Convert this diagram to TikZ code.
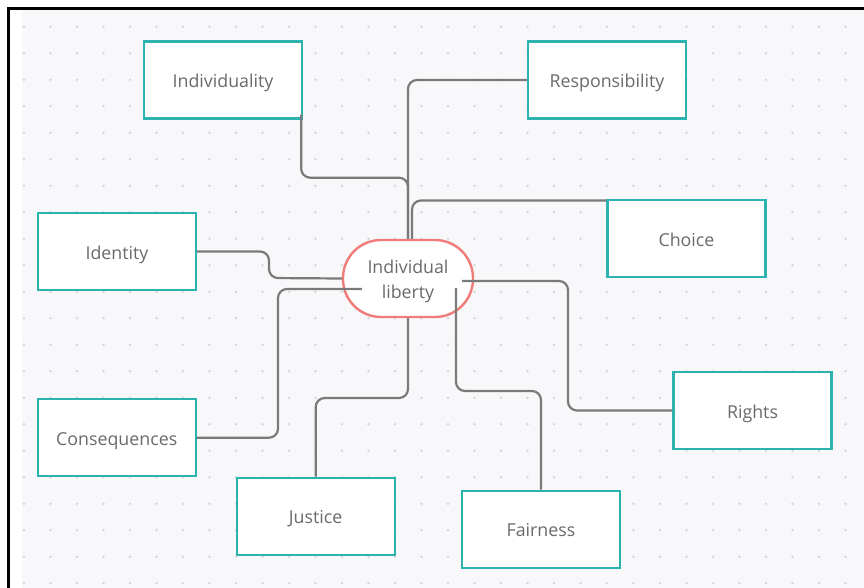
\documentclass[tikz,border=0pt]{standalone}
\usepackage{fontspec}
\setmainfont{Open Sans}
\definecolor{bgc}{HTML}{F8F8FA}
\definecolor{dotc}{HTML}{D6D6DA}
\definecolor{tealc}{HTML}{2CB3B0}
\definecolor{redc}{HTML}{F07C7A}
\definecolor{linec}{HTML}{7A7A7A}
\definecolor{txtc}{HTML}{6A6A6A}
\tikzset{
  topic/.style={draw=tealc, line width=2.4pt, fill=white, minimum width=158pt, minimum height=77pt,
    inner sep=0pt, text=txtc, text height=16pt, text depth=1pt, font=\fontsize{17.8}{24}\selectfont},
  hub/.style={draw=redc, line width=2.4pt, fill=white, minimum width=130pt, minimum height=77pt,
    rounded corners=38pt, inner sep=0pt, text=txtc, font=\fontsize{17.8}{24.5}\selectfont},
  conn/.style={draw=linec, line width=2.2pt, rounded corners=9pt}
}
\begin{document}
\begin{tikzpicture}[x=1pt,y=-1pt]
\useasboundingbox (0,0) rectangle (864,588);
% frame and canvas
\fill[white] (0,0) rectangle (864,588);
\fill[bgc] (22,10) rectangle (864,588);
\draw[black, line width=3pt] (8,588) -- (8,9) -- (864,9);
% dot grid
\foreach \i in {0,...,31} {
  \foreach \j in {0,...,21} {
    \fill[dotc] (24+26.5*\i, 26.7+26.5*\j) circle (1.4pt);
  }
}
% nodes
\node[topic] (indiv) at (223,80) {Individuality};
\node[topic] (resp) at (607,80) {Responsibility};
\node[topic] (ident) at (117,251.5) {Identity};
\node[topic] (choice) at (686.5,238.7) {Choice};
\node[topic] (cons) at (116.7,437.7) {Consequences};
\node[topic] (rights) at (752.5,410.5) {Rights};
\node[topic] (justice) at (315.7,516.3) {Justice};
\node[topic] (fair) at (541,529.3) {Fairness};
\node[hub] (hub) at (408,278.5) {\raisebox{-2.5pt}[\height][\depth]{\begin{tabular}{@{}c@{}}Individual\\liberty\end{tabular}}};
% connectors
\draw[conn] ([xshift=-2pt,yshift=5pt]indiv.south east) -- ++(0,63) -| (hub.north);
\draw[conn] (resp.west) -| (hub.north);
\draw[conn] ([yshift=-1.5pt]choice.north west) -| ([xshift=4pt]hub.north);
\draw[conn] (ident.east) -- (269,251.5) -- (269,278) -- (hub.west);
\draw[conn] (cons.east) -- (278,437.7) -- (278,289) -- ([xshift=20pt,yshift=-10.5pt]hub.west);
\draw[conn] (justice.north) -- (315.7,398) -- (408,398) -- (hub.south);
\draw[conn] (fair.north) -- (541,391) -- (456,391) -- ([xshift=48pt,yshift=-9.5pt]hub.center);
\draw[conn] (rights.west) -- (568,410.5) -- (568,281) -- ([xshift=54pt,yshift=-2.5pt]hub.center);
\end{tikzpicture}
\end{document}
